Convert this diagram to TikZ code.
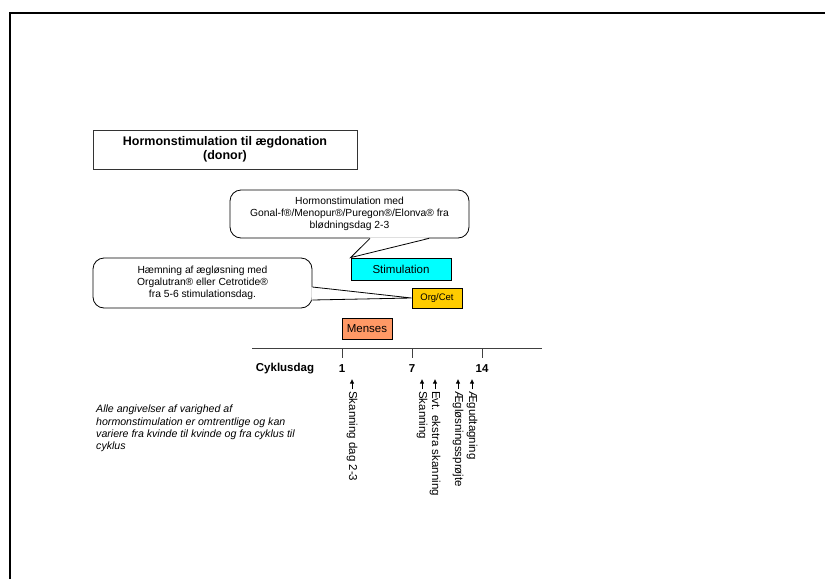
\documentclass[tikz,border=0pt]{standalone}
\usepackage{fontspec}
\setmainfont{Liberation Sans}
\usetikzlibrary{arrows.meta}
\usetikzlibrary{positioning}

\definecolor{stimcyan}{HTML}{00FFFF}
\definecolor{orggold}{HTML}{FFCC00}
\definecolor{mensesorange}{HTML}{FF9966}

\tikzstyle{every node}+=[inner sep=0pt]
\tikzstyle{titlebox} = [rectangle, draw, black!80, text=black, line width=0.8pt, align=center, font=\fontsize{12.5}{14}\selectfont\bfseries, minimum width=264pt, minimum height=39pt]
\tikzstyle{bubble} = [rectangle, draw, line width=0.8pt, rounded corners=11pt, fill=white, align=center, font=\fontsize{10.3}{12.3}\selectfont]
\tikzstyle{bar} = [rectangle, draw, line width=0.8pt, font=\fontsize{11.5}{13}\selectfont, minimum height=21pt]
\tikzstyle{pointer} = [draw, line width=0.8pt]
\tikzstyle{axis} = [draw, black!75, line width=0.8pt]
\tikzstyle{daylabel} = [font=\fontsize{11.5}{13}\selectfont\bfseries]
\tikzstyle{event} = [rotate=-90, anchor=west, font=\fontsize{11.5}{13}\selectfont]
\tikzstyle{evarrow} = [draw, line width=0.7pt, -{Latex[length=4.5pt,width=4.5pt]}]
\tikzstyle{note} = [align=left, font=\fontsize{10.6}{12.3}\selectfont\itshape]

\begin{document}
\begin{tikzpicture}[x=1pt, y=-1pt]
  \useasboundingbox (0,0) rectangle (825,579);
  % frame
  \draw[line width=2pt] (10,579) -- (10,13) -- (825,13);
  % Place nodes
  \node [titlebox] (title) at (225,149.5) {Hormonstimulation til ægdonation\\(donor)};
  \node [bubble, minimum width=239pt, minimum height=48pt] (stimnote) at (349.5,214) {Hormonstimulation med\\Gonal-f®/Menopur®/Puregon®/Elonva® fra\\blødningsdag 2-3};
  \node [bar, fill=stimcyan, minimum width=100pt, minimum height=22pt] (stim) at (401,269) {Stimulation};
  \node [bubble, minimum width=219pt, minimum height=50pt] (orgnote) at (202.5,283) {Hæmning af ægløsning med\\Orgalutran® eller Cetrotide®\\fra 5-6 stimulationsdag.};
  \node [bar, fill=orggold, minimum width=50pt, minimum height=20pt, font=\fontsize{9.5}{11}\selectfont] (org) at (437,298) {Org/Cet};
  \node [bar, fill=mensesorange, minimum width=50pt] (menses) at (367,328.5) {Menses};
  % Callout pointers
  \coordinate (sp1) at ([xshift=20.5pt]stimnote.south);
  \coordinate (sp2) at ([xshift=79.5pt]stimnote.south);
  \fill[white] ([yshift=1pt]sp1) -- (stim.north west) -- ([yshift=1pt]sp2) -- cycle;
  \path [pointer] (sp1) -- (stim.north west) -- (sp2);
  \coordinate (op1) at ([yshift=-4pt]orgnote.east);
  \coordinate (op2) at ([yshift=-17pt]orgnote.east);
  \fill[white] ([xshift=-1pt]op1) -- (org.west) -- ([xshift=-1pt]op2) -- cycle;
  \path [pointer] (op1) -- (org.west) -- (op2);
  % Time axis
  \coordinate (axstart) at (252,348);
  \coordinate (axend) at (542,348);
  \path [axis] (axstart) -- (axend);
  \node [daylabel] (cyklus) at (285,369) {Cyklusdag};
  \foreach \x/\d in {342/1, 412/7, 482/14} {
    \path [axis] (\x,348) -- (\x,358);
    \node [daylabel] (day\d) at (\x,369) {\d};
  }
  % Events
  \foreach \x/\n/\t in {352/ev1/Skanning dag 2-3, 422/ev2/Skanning, 435/ev3/Evt. ekstra skanning, 458/ev4/Ægløsningssprøjte, 472/ev5/Ægudtagning} {
    \node [event] (\n) at (\x,391) {\t};
    \path [evarrow] ([yshift=2pt]\n.west) -- ++(0,-10);
  }
  \node [note, anchor=north west] (remark) at (96,405) {Alle angivelser af varighed af\\hormonstimulation er omtrentlige og kan\\variere fra kvinde til kvinde og fra cyklus til\\cyklus};
\end{tikzpicture}
\end{document}
